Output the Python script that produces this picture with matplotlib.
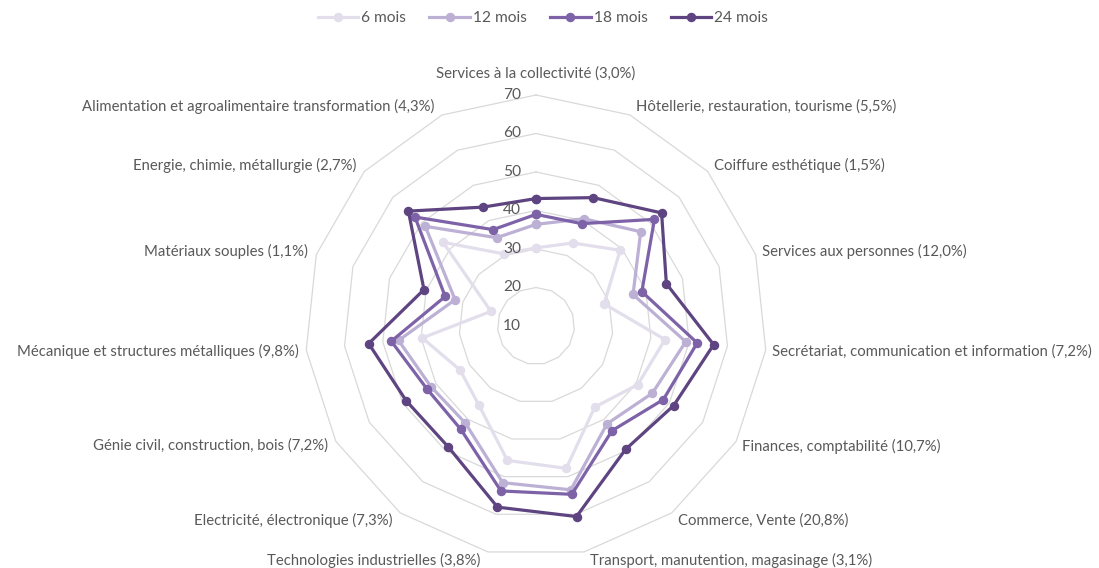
import numpy as np
import matplotlib
matplotlib.use("Agg")
import matplotlib.pyplot as plt
from matplotlib.lines import Line2D

plt.rcParams['font.family'] = ['Lato', 'DejaVu Sans']

categories = [
    "Services à la collectivité (3,0%)",
    "Hôtellerie, restauration, tourisme (5,5%)",
    "Coiffure esthétique (1,5%)",
    "Services aux personnes (12,0%)",
    "Secrétariat, communication et information (7,2%)",
    "Finances, comptabilité (10,7%)",
    "Commerce, Vente (20,8%)",
    "Transport, manutention, magasinage (3,1%)",
    "Technologies industrielles (3,8%)",
    "Electricité, électronique (7,3%)",
    "Génie civil, construction, bois (7,2%)",
    "Mécanique et structures métalliques (9,8%)",
    "Matériaux souples (1,1%)",
    "Energie, chimie, métallurgie (2,7%)",
    "Alimentation et agroalimentaire transformation (4,3%)",
]

series_names = ["6 mois", "12 mois", "18 mois", "24 mois"]
mois_6 = [30.3, 33.6, 39.4, 28.6, 43.7, 40.5, 36.0, 47.8, 45.7, 35.3, 32.8, 39.7, 22.3, 42.5, 30.5]
mois_12 = [36.4, 40.5, 46.6, 36.5, 49.1, 44.9, 41.4, 53.5, 51.6, 41.2, 41.5, 45.9, 32.1, 48.7, 35.1]
mois_18 = [39.0, 39.1, 51.4, 38.9, 52.1, 48.2, 43.6, 54.7, 53.8, 43.2, 42.7, 47.8, 34.8, 52.3, 37.4]
mois_24 = [43.1, 46.5, 53.9, 45.6, 56.4, 51.3, 49.6, 60.6, 58.1, 48.8, 48.9, 53.7, 40.6, 54.6, 43.8]
series_values = [mois_6, mois_12, mois_18, mois_24]
colors = ["#E3DEEC", "#BDB0D5", "#7E62A8", "#5E4480"]

r_ticks = [10, 20, 30, 40, 50, 60, 70]

W, H = 1099, 568
fig = plt.figure(figsize=(W / 100, H / 100), dpi=100)
cx, cy, R = 536, 326, 231
ax = fig.add_axes([(cx - R) / W, (H - cy - R) / H, 2 * R / W, 2 * R / H], projection='polar')
ax.set_theta_zero_location('N')
ax.set_theta_direction(-1)
ax.set_ylim(10, 70)
ax.grid(False)
ax.set_xticks([])
ax.set_yticks([])
ax.spines['polar'].set_visible(False)
ax.patch.set_alpha(0)

n = len(categories)
angles = np.arange(n) * 2 * np.pi / n
closed = np.append(angles, angles[0])

# polygon gridlines
for r in r_ticks[1:]:
    ax.plot(closed, [r] * (n + 1), color="#D9D9D9", lw=0.9, zorder=1, clip_on=False)

# series
for name, vals, col in zip(series_names, series_values, colors):
    v = np.append(vals, vals[0])
    ax.plot(closed, v, color=col, lw=2.3, marker='o', ms=5.8, label=name, zorder=3, clip_on=False)

txt_col = "#595959"
# radial tick labels
for r in r_ticks:
    ax.annotate(str(r), xy=(0, r), xytext=(-15, 0), textcoords='offset pixels',
                ha='right', va='center', fontsize=11.2, color=txt_col, zorder=5)

# category labels
for i, (a, lab) in enumerate(zip(angles, categories)):
    s, c = np.sin(a), np.cos(a)
    if i == 0:
        ax.annotate(lab, xy=(a, 70), xytext=(0, 21), textcoords='offset pixels',
                    ha='center', va='center', fontsize=10.7, color=txt_col)
        continue
    ha = 'left' if s > 0 else 'right'
    dx = 6 if s > 0 else -8
    dy = 9 * c
    ax.annotate(lab, xy=(a, 70), xytext=(dx, dy), textcoords='offset pixels',
                ha=ha, va='center', fontsize=10.7, color=txt_col)

handles = [Line2D([0], [0], color=c, lw=2.3, marker='o', ms=5.8) for c in colors]
fig.legend(handles, series_names, loc='center', bbox_to_anchor=(543 / W, 1 - 18 / H), ncol=4,
           frameon=False, fontsize=11.2, handlelength=2.6, handletextpad=0.2, columnspacing=1.5,
           labelcolor=txt_col)

fig.savefig("out.png", dpi=100)
